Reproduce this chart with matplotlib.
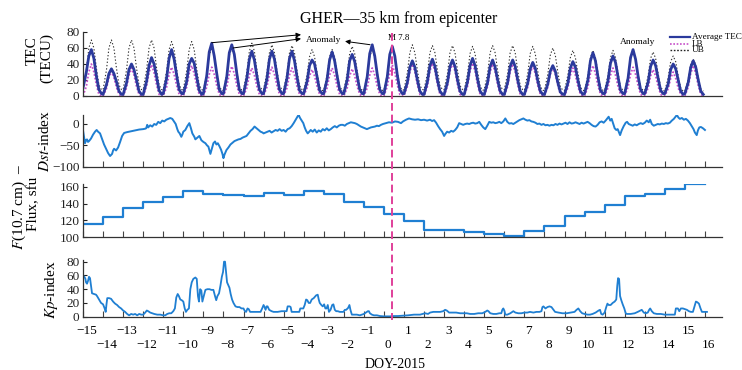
import numpy as np
import matplotlib
matplotlib.use('Agg')
import matplotlib.pyplot as plt
from matplotlib.lines import Line2D

plt.rcParams['font.family'] = ['Liberation Serif', 'DejaVu Serif']
plt.rcParams['mathtext.fontset'] = 'stix'

# ---------------- data ----------------
tec_days = list(range(-15, 16))
tec_hours = [0, 4, 7, 10, 13, 16, 19, 22]

avg_tec = [
    [10, 30, 50, 58, 47, 25, 8, 3],
    [2, 14, 28, 34, 28, 18, 6, 2],
    [2, 16, 33, 40, 33, 20, 6, 2],
    [2, 18, 38, 48, 40, 24, 7, 2],
    [3, 22, 47, 58, 46, 26, 8, 3],
    [3, 18, 40, 47, 41, 24, 7, 2],
    [3, 25, 55, 66, 50, 28, 8, 3],
    [3, 24, 54, 64, 52, 28, 8, 3],
    [3, 22, 46, 56, 45, 25, 8, 3],
    [3, 21, 46, 56, 46, 26, 8, 3],
    [3, 22, 47, 56, 44, 24, 7, 3],
    [3, 18, 38, 45, 40, 24, 7, 3],
    [3, 21, 45, 55, 44, 25, 8, 3],
    [3, 20, 44, 52, 43, 25, 8, 3],
    [3, 24, 53, 64, 50, 27, 8, 3],
    [3, 24, 52, 62, 50, 26, 8, 3],
    [3, 17, 36, 44, 36, 20, 6, 2],
    [2, 18, 38, 46, 37, 20, 6, 2],
    [2, 17, 37, 45, 37, 20, 6, 2],
    [2, 18, 38, 47, 38, 21, 6, 2],
    [2, 17, 37, 45, 36, 20, 6, 2],
    [2, 17, 37, 45, 37, 20, 6, 2],
    [2, 16, 34, 42, 35, 19, 6, 2],
    [2, 15, 31, 38, 31, 17, 5, 2],
    [2, 16, 35, 43, 36, 20, 6, 2],
    [3, 20, 44, 54, 44, 24, 7, 3],
    [3, 19, 41, 50, 42, 24, 7, 3],
    [3, 22, 48, 58, 46, 25, 8, 3],
    [3, 17, 37, 45, 38, 22, 7, 3],
    [3, 15, 33, 40, 34, 20, 6, 2],
    [3, 17, 36, 44, 36, 20, 6, 2],
]
ub_tec = [
    [8, 32, 60, 70, 60, 35, 14, 8],
    [8, 32, 60, 70, 60, 35, 14, 8],
    [8, 32, 60, 70, 60, 35, 14, 8],
    [8, 32, 60, 70, 60, 35, 14, 8],
    [8, 31, 58, 68, 58, 34, 14, 8],
    [8, 31, 58, 68, 58, 34, 14, 8],
    [7, 27, 51, 60, 51, 30, 12, 7],
    [7, 27, 51, 60, 51, 30, 12, 7],
    [8, 30, 56, 66, 56, 33, 13, 8],
    [8, 29, 54, 64, 54, 32, 13, 8],
    [8, 28, 54, 63, 54, 32, 13, 8],
    [7, 26, 49, 58, 49, 29, 12, 7],
    [7, 26, 49, 58, 49, 29, 12, 7],
    [7, 28, 53, 62, 53, 31, 12, 7],
    [7, 26, 49, 58, 49, 29, 12, 7],
    [7, 27, 51, 60, 51, 30, 12, 7],
    [8, 29, 54, 64, 54, 32, 13, 8],
    [8, 28, 54, 63, 54, 32, 13, 8],
    [8, 28, 54, 63, 54, 32, 13, 8],
    [7, 28, 53, 62, 53, 31, 12, 7],
    [8, 28, 54, 63, 54, 32, 13, 8],
    [8, 28, 54, 63, 54, 32, 13, 8],
    [7, 28, 53, 62, 53, 31, 12, 7],
    [7, 27, 51, 60, 51, 30, 12, 7],
    [7, 26, 48, 57, 48, 29, 11, 7],
    [7, 26, 48, 57, 48, 29, 11, 7],
    [7, 26, 48, 57, 48, 29, 11, 7],
    [7, 24, 46, 54, 46, 27, 11, 7],
    [7, 25, 47, 55, 47, 28, 11, 7],
    [6, 23, 43, 50, 43, 25, 10, 6],
    [6, 21, 39, 46, 39, 23, 9, 6],
]
lb_tec = [
    [0, 12, 30, 40, 30, 14, 2, 0],
    [0, 9, 23, 31, 23, 11, 2, 0],
    [0, 10, 26, 35, 26, 12, 2, 0],
    [0, 12, 29, 39, 29, 14, 2, 0],
    [0, 11, 27, 36, 27, 13, 2, 0],
    [0, 11, 28, 38, 28, 13, 2, 0],
    [0, 11, 27, 36, 27, 13, 2, 0],
    [0, 11, 28, 37, 28, 13, 2, 0],
    [0, 10, 26, 35, 26, 12, 2, 0],
    [0, 11, 27, 36, 27, 13, 2, 0],
    [0, 10, 26, 35, 26, 12, 2, 0],
    [0, 10, 25, 33, 25, 12, 2, 0],
    [0, 10, 26, 35, 26, 12, 2, 0],
    [0, 10, 25, 34, 25, 12, 2, 0],
    [0, 10, 26, 35, 26, 12, 2, 0],
    [0, 12, 29, 39, 29, 14, 2, 0],
    [0, 12, 30, 40, 30, 14, 2, 0],
    [0, 12, 31, 41, 31, 14, 2, 0],
    [0, 12, 31, 41, 31, 14, 2, 0],
    [0, 12, 31, 41, 31, 14, 2, 0],
    [0, 12, 30, 40, 30, 14, 2, 0],
    [0, 12, 30, 40, 30, 14, 2, 0],
    [0, 11, 28, 38, 28, 13, 2, 0],
    [0, 11, 27, 36, 27, 13, 2, 0],
    [0, 10, 26, 35, 26, 12, 2, 0],
    [0, 11, 28, 38, 28, 13, 2, 0],
    [0, 10, 26, 35, 26, 12, 2, 0],
    [0, 11, 27, 36, 27, 13, 2, 0],
    [0, 10, 25, 33, 25, 12, 2, 0],
    [0, 9, 22, 30, 22, 10, 2, 0],
    [0, 11, 28, 38, 28, 13, 2, 0],
]

dst_t = [-15.0, -14.95, -14.9, -14.85, -14.8, -14.75, -14.7, -14.6, -14.5, -14.4, -14.32, -14.25, -14.15,
         -14.05, -13.95, -13.85, -13.75, -13.65, -13.55, -13.5, -13.45, -13.35, -13.25, -13.15, -13.05,
         -12.95, -12.8, -12.6, -12.4, -12.2, -12.0, -11.9, -11.85, -11.8, -11.75, -11.65, -11.55, -11.45,
         -11.35, -11.25, -11.15, -11.05, -10.95, -10.85, -10.75, -10.65, -10.55, -10.45, -10.38, -10.3,
         -10.25, -10.18, -10.1, -10.05, -10.0, -9.9, -9.8, -9.7, -9.62, -9.55, -9.45, -9.4, -9.3, -9.2,
         -9.1, -9.0, -8.9, -8.82, -8.75, -8.7, -8.65, -8.58, -8.5, -8.42, -8.35, -8.28, -8.2, -8.12,
         -8.05, -8.0, -7.95, -7.85, -7.75, -7.65, -7.55, -7.45, -7.35, -7.25, -7.15, -7.05, -6.95, -6.85,
         -6.75, -6.65, -6.55, -6.45, -6.35, -6.25, -6.15, -6.05, -6.0, -5.9, -5.8, -5.7, -5.6, -5.5, -5.4,
         -5.3, -5.2, -5.1, -5.0, -4.9, -4.8, -4.7, -4.6, -4.5, -4.4, -4.3, -4.25, -4.18, -4.1, -4.02,
         -3.95, -3.88, -3.8, -3.72, -3.65, -3.55, -3.45, -3.35, -3.25, -3.15, -3.05, -2.95, -2.85, -2.75,
         -2.65, -2.55, -2.45, -2.35, -2.25, -2.15, -2.05, -1.95, -1.85, -1.75, -1.65, -1.55, -1.45, -1.35,
         -1.25, -1.15, -1.05, -0.95, -0.85, -0.75, -0.65, -0.55, -0.45, -0.35, -0.25, -0.15, -0.05, 0.1,
         0.25, 0.4, 0.55, 0.7, 0.85, 0.95, 1.1, 1.25, 1.4, 1.55, 1.7, 1.85, 2.0, 2.15, 2.3, 2.4, 2.5, 2.6,
         2.7, 2.8, 2.9, 3.0, 3.05, 3.15, 3.25, 3.35, 3.45, 3.55, 3.65, 3.75, 3.85, 3.95, 4.05, 4.15, 4.25,
         4.35, 4.45, 4.55, 4.65, 4.75, 4.85, 4.95, 5.05, 5.15, 5.25, 5.35, 5.45, 5.55, 5.65, 5.75, 5.85,
         5.95, 6.05, 6.15, 6.25, 6.35, 6.45, 6.55, 6.65, 6.75, 6.85, 6.95, 7.05, 7.15, 7.25, 7.35, 7.45,
         7.55, 7.65, 7.75, 7.85, 7.95, 8.05, 8.15, 8.25, 8.35, 8.45, 8.55, 8.65, 8.75, 8.85, 8.95, 9.05,
         9.15, 9.25, 9.35, 9.45, 9.55, 9.65, 9.75, 9.85, 9.95, 10.05, 10.15, 10.25, 10.35, 10.45, 10.55,
         10.65, 10.75, 10.85, 10.95, 11.05, 11.15, 11.2, 11.28, 11.35, 11.42, 11.5, 11.58, 11.65, 11.72,
         11.77, 11.85, 11.95, 12.05, 12.12, 12.2, 12.3, 12.4, 12.5, 12.6, 12.7, 12.8, 12.9, 13.0, 13.1,
         13.2, 13.27, 13.35, 13.45, 13.55, 13.65, 13.75, 13.85, 13.95, 14.05, 14.15, 14.25, 14.35, 14.45,
         14.55, 14.6, 14.68, 14.75, 14.85, 14.95, 15.05, 15.15, 15.25, 15.35, 15.43, 15.5, 15.59, 15.65,
         15.72, 15.8, 15.9, 16.0]
dst_v = [-15, -30, -45, -38, -36, -42, -40, -34, -25, -18, -14, -18, -22,
         -35, -48, -58, -68, -75, -70, -62, -58, -62, -55, -42, -28,
         -21, -19, -17, -15, -13, -12, -11, -10, -2, -8, -3, -6, 0,
         -2, 5, 2, 8, 6, 10, 12, 14, 12, 5, 0, -12,
         -18, -22, -30, -25, -18, -14, -5, 2, -10, -22, -30, -36, -32, -28,
         -38, -42, -45, -50, -53, -62, -70, -58, -45, -41, -48, -45, -52, -60,
         -70, -80, -72, -61, -55, -48, -44, -40, -38, -36, -35, -32, -30, -28,
         -22, -16, -12, -6, -10, -14, -18, -20, -22, -20, -18, -16, -20, -17, -14,
         -16, -12, -16, -14, -18, -12, -10, -5, 2, 10, 18, 21, 14, 8, 2,
         -8, -16, -22, -18, -14, -18, -13, -20, -15, -18, -12, -15, -10, -15,
         -12, -8, -5, -8, -4, -2, -2, -4, 0, 2, 4, 3, 2, 0,
         -3, -6, -8, -10, -12, -10, -8, -7, -6, -4, -5, -2, 0, 2,
         4, 3, 6, 5, 2, 6, 10, 13, 11, 10, 11, 9, 10, 8, 10, 7, 9, 3,
         -5, -12, -18, -28, -24, -18, -20, -16, -18, -14, -8, 2, 0, -2, 0, 1, 0,
         2, 3, 1, 2, 5, -2, -8, -12, -4, 5, 3, 4, 2, 3, 5, 2,
         6, 13, 5, 1, 2, 0, 3, 6, 9, 11, 13, 10, 8, 9, 6, 5,
         3, 0, 1, -2, 0, -3, -2, -4, -2, -3, 0, -2, 1, -1, 1, 3,
         0, 4, 1, 2, 4, 2, 0, 3, 1, 3, 5, 2, -2, -5, -6,
         -2, 4, 6, 3, 8, 14, 17, 8, 12, 2, -10, -14, -12, -20,
         -26, -15, -5, 3, 5, 0, -2, -4, -1, -3, 0, 2, 0, 3, 8,
         4, 10, 0, -4, -2, 0, -1, 1, 0, 2, 1, 3, 8, 12,
         18, 21, 15, 12, 14, 10, 12, 8, 2, -6, -12, -20, -26, -15,
         -8, -7, -10, -14]

f107_days = list(range(-15, 17))
f107_vals = [115.8, 123.7, 134.4, 141.5, 147.4, 155.3, 151.4, 150.6, 148.5, 152.0, 150.6, 155.0,
             151.4, 141.5, 136.0, 127.6, 119.7, 108.7, 109.0, 105.9, 103.9, 101.5, 107.5, 113.4,
             125.6, 129.6, 138.3, 149.4, 151.4, 157.0, 162.9, 162.9]

kp_t = [-15.0, -14.93, -14.88, -14.85, -14.8, -14.75, -14.7, -14.65, -14.6, -14.55, -14.45, -14.35,
        -14.3, -14.2, -14.1, -14.0, -13.92, -13.87, -13.83, -13.79, -13.7, -13.6, -13.5, -13.4, -13.3,
        -13.2, -13.1, -13.0, -12.9, -12.8, -12.7, -12.6, -12.5, -12.4, -12.3, -12.2, -12.1, -12.0,
        -11.9, -11.82, -11.75, -11.65, -11.55, -11.45, -11.3, -11.15, -11.0, -10.9, -10.8, -10.7,
        -10.6, -10.5, -10.42, -10.35, -10.28, -10.22, -10.15, -10.08, -10.0, -9.93, -9.87, -9.8,
        -9.72, -9.65, -9.58, -9.5, -9.4, -9.33, -9.27, -9.22, -9.16, -9.1, -9.05, -8.98, -8.9, -8.8,
        -8.7, -8.6, -8.5, -8.42, -8.36, -8.3, -8.22, -8.15, -8.08, -8.02, -7.97, -7.92, -7.87, -7.82,
        -7.76, -7.7, -7.64, -7.57, -7.5, -7.4, -7.3, -7.2, -7.1, -7.0, -6.93, -6.87, -6.8, -6.74,
        -6.67, -6.5, -6.3, -6.15, -6.07, -6.0, -5.95, -5.9, -5.85, -5.8, -5.72, -5.6, -5.5, -5.3,
        -5.1, -4.95, -4.85, -4.8, -4.7, -4.65, -4.6, -4.5, -4.35, -4.22, -4.17, -4.1, -4.02, -3.95,
        -3.88, -3.82, -3.75, -3.68, -3.6, -3.5, -3.38, -3.3, -3.25, -3.2, -3.12, -3.05, -2.98, -2.92,
        -2.86, -2.8, -2.74, -2.66, -2.58, -2.52, -2.45, -2.38, -2.3, -2.2, -2.1, -2.02, -1.95, -1.88,
        -1.78, -1.72, -1.67, -1.6, -1.5, -1.35, -1.2, -1.0, -0.9, -0.8, -0.75, -0.7, -0.6, -0.5,
        -0.35, -0.2, 0.0, 0.3, 0.5, 0.7, 0.97, 1.2, 1.5, 1.8, 2.05, 2.2, 2.3, 2.46, 2.6, 2.8, 2.95,
        3.05, 3.13, 3.25, 3.4, 3.6, 3.8, 4.0, 4.13, 4.3, 4.5, 4.7, 4.9, 5.05, 5.15, 5.21, 5.3, 5.45,
        5.6, 5.75, 5.85, 5.9, 5.95, 6.0, 6.05, 6.15, 6.3, 6.45, 6.55, 6.7, 6.85, 7.0, 7.15, 7.28,
        7.45, 7.6, 7.75, 7.85, 7.9, 7.95, 8.05, 8.15, 8.25, 8.35, 8.45, 8.53, 8.7, 8.9, 9.11, 9.3,
        9.5, 9.6, 9.69, 9.78, 9.88, 10.0, 10.15, 10.27, 10.4, 10.55, 10.7, 10.77, 10.83, 10.9, 11.0,
        11.08, 11.14, 11.2, 11.3, 11.4, 11.5, 11.58, 11.63, 11.67, 11.72, 11.77, 11.83, 11.9, 11.98,
        12.05, 12.1, 12.3, 12.5, 12.65, 12.78, 12.85, 12.95, 13.05, 13.15, 13.22, 13.27, 13.35,
        13.45, 13.6, 13.8, 14.0, 14.2, 14.4, 14.5, 14.55, 14.65, 14.72, 14.8, 14.9, 15.0, 15.1,
        15.2, 15.3, 15.4, 15.48, 15.55, 15.62, 15.7, 15.78, 15.85, 15.93, 16.05, 16.1]
kp_v = [60, 58, 55, 50, 48, 52, 58, 56, 45, 34, 33, 32,
        30, 25, 20, 18, 12, 7, 18, 27, 27, 26, 22, 19, 17,
        14, 12, 9, 7, 4, 2, 4, 3, 4, 2, 4, 3, 3,
        6, 9, 8, 6, 5, 4, 3, 3, 2, 2, 4, 5,
        5, 8, 12, 28, 33, 30, 25, 24, 22, 12, 7, 10,
        12, 40, 50, 55, 57, 55, 30, 22, 40, 38, 22, 30, 39, 40,
        40, 39, 39, 30, 24, 30, 34, 45, 58, 65, 80, 80, 65, 50,
        46, 42, 33, 25, 20, 15, 14, 14, 12, 12, 8, 7, 12, 11,
        7, 7, 7, 7, 12, 17, 14, 10, 15, 15, 10, 8, 7, 7,
        8, 8, 8, 15, 15, 14, 7, 7, 7, 7, 12, 12, 12, 17,
        25, 24, 20, 20, 25, 27, 31, 32, 25, 20, 17, 15, 18, 12,
        12, 17, 7, 10, 17, 18, 10, 8, 8, 7, 7, 7, 10, 10,
        13, 17, 10, 3, 3, 3, 2, 4, 6, 8, 8, 5, 3, 2,
        2, 1, 0.5, 0.5, 1, 1, 1.5, 2, 3, 3, 5, 4, 6, 7, 7, 7, 8,
        10, 9, 6, 6, 6, 5, 5, 5, 4, 4, 5, 5, 7, 9, 8, 5, 4,
        4, 5, 5, 10, 12, 9, 3, 3, 5, 8, 6, 5, 5, 6, 6, 7,
        6, 7, 7, 8, 14, 15, 12, 14, 15, 14, 10, 7, 6, 5, 5, 6,
        7, 10, 12, 8, 5, 4, 3, 3, 4, 6, 9, 10, 4, 3, 6,
        14, 19, 17, 17, 20, 22, 25, 45, 56, 55, 30, 24, 18, 12,
        5, 4, 4, 5, 7, 9, 10, 6, 5, 6, 10, 12, 8,
        5, 4, 4, 3, 3, 3, 3, 12, 12, 8, 12, 12, 11, 10,
        8, 7, 7, 15, 22, 21, 19, 12, 7, 7, 7, 7]

quake_day = 0.38
tick_days = list(range(-15, 17))

# ---------------- layout helpers ----------------
W, H = 742, 370
fig = plt.figure(figsize=(W / 100, H / 100), dpi=100)
X0, X1 = 83, 722


def rect(top, bot):
    return [X0 / W, 1 - bot / H, (X1 - X0) / W, (bot - top) / H]


ax_tec = fig.add_axes(rect(32, 96))
ax_dst = fig.add_axes(rect(114.6, 166.7))
ax_f = fig.add_axes(rect(183.8, 237.3))
ax_kp = fig.add_axes(rect(260.3, 316.7))
axes = [ax_tec, ax_dst, ax_f, ax_kp]

line_blue = '#1f7fd2'
for ax in axes:
    ax.set_xlim(-15, 16.85)
    ax.spines['top'].set_visible(False)
    ax.spines['right'].set_visible(False)
    for s in ('left', 'bottom'):
        ax.spines[s].set_linewidth(0.9)
        ax.spines[s].set_color('#333333')
    ax.tick_params(axis='y', direction='in', length=3, width=0.8, labelsize=9.5, pad=2.5,
                   colors='#222222')
    ax.tick_params(axis='x', direction='in', length=4, width=0.8, colors='#444444')
    ax.patch.set_alpha(0)

# ---- TEC panel ----
t_tec = []
a_tec, u_tec, l_tec = [], [], []
for i, d in enumerate(tec_days):
    for j, h in enumerate(tec_hours):
        t_tec.append(d + h / 24.0)
        a_tec.append(avg_tec[i][j])
        u_tec.append(ub_tec[i][j])
        l_tec.append(lb_tec[i][j])
ax_tec.plot(t_tec, u_tec, color='#333333', lw=0.8, ls=(0, (1.2, 1.8)))
ax_tec.plot(t_tec, l_tec, color='#c64fc8', lw=1.25, ls=(0, (1, 1.1)))
ax_tec.plot(t_tec, a_tec, color='#2b3a9c', lw=2.0)
ax_tec.set_ylim(0, 80)
ax_tec.set_yticks([0, 20, 40, 60, 80])
ax_tec.set_xticks([])


def dpos(px, py):
    return ((px - X0) / 20.06 - 15, (96 - py) / 0.8)


arrow_kw = dict(arrowstyle='-|>', color='black', lw=0.7, mutation_scale=7,
                shrinkA=0, shrinkB=0)
ax_tec.annotate('', xy=dpos(301, 34.7), xytext=dpos(211.7, 42.7), arrowprops=arrow_kw,
                annotation_clip=False)
ax_tec.annotate('', xy=dpos(301, 38.7), xytext=dpos(233, 48), arrowprops=arrow_kw,
                annotation_clip=False)
ax_tec.annotate('', xy=dpos(345, 41.3), xytext=dpos(370, 44.7), arrowprops=arrow_kw,
                annotation_clip=False)
x, y = dpos(324, 39.5)
ax_tec.text(x, y, 'Anomaly', fontsize=6.8, ha='center', va='center')
x, y = dpos(638, 41.7)
ax_tec.text(x, y, 'Anomaly', fontsize=6.8, ha='center', va='center')
x, y = dpos(388, 38.5)
ax_tec.text(x, y, 'M 7.8', fontsize=6.5, ha='left', va='center')

# legend (manual)
leg = [('Average TEC', '#2b3a9c', '-', 1.6), ('LB', '#c64fc8', (0, (1, 1)), 1.2),
       ('UB', '#222222', (0, (1.2, 1.2)), 1.0)]
for k, (lab, col, ls, lw) in enumerate(leg):
    yy = 1 - (37 + 6.5 * k) / H
    fig.add_artist(Line2D([670 / W, 690 / W], [yy, yy], color=col, ls=ls, lw=lw))
    fig.text(691.5 / W, yy, lab, fontsize=6.6, ha='left', va='center')

# ---- Dst panel ----
ax_dst.plot(dst_t, dst_v, color=line_blue, lw=1.4)
ax_dst.set_ylim(-100, 22)
ax_dst.set_yticks([0, -50, -100])
ax_dst.set_yticklabels(['0', '\u221250', '\u2212100'])
ax_dst.set_xticks(tick_days)
ax_dst.set_xticklabels([])

# ---- F10.7 panel ----
ax_f.step(f107_days, f107_vals, where='post', color=line_blue, lw=1.6)
ax_f.set_ylim(100, 163.5)
ax_f.set_yticks([100, 120, 140, 160])
ax_f.set_xticks(tick_days)
ax_f.set_xticklabels([])

# ---- Kp panel ----
ax_kp.plot(kp_t, kp_v, color=line_blue, lw=1.3)
ax_kp.set_ylim(0, 82)
ax_kp.set_yticks([0, 20, 40, 60, 80])
ax_kp.set_xticks(tick_days)
ax_kp.set_xticklabels([])
kp_h = 316.7 - 260.3
for d in tick_days:
    lab = str(d).replace('-', '\u2212')
    row_y = 331.5 if d % 2 else 345.5
    ax_kp.text(d + 0.2, -(row_y - 316.7) / kp_h, lab, transform=ax_kp.get_xaxis_transform(),
               ha='center', va='center', fontsize=9.5)

# vertical dashed line across panels (earthquake time)
qx = (X0 + (quake_day + 15) * 20.06) / W
fig.add_artist(Line2D([qx, qx], [1 - 33 / H, 1 - 320 / H], color='#e0409a', lw=1.4,
                      ls=(0, (4, 2)), zorder=5))

# ---- titles / labels ----
fig.text(399 / W, 1 - 19 / H, 'GHER\u201435 km from epicenter', fontsize=11.5,
         ha='center', va='center')
fig.text(32 / W, 1 - 51 / H, 'TEC', rotation=90, fontsize=11, ha='center', va='center')
fig.text(47 / W, 1 - 58 / H, '(TECU)', rotation=90, fontsize=11, ha='center', va='center')
fig.text(45 / W, 1 - 141 / H, r'$\mathit{Dst}$-index', rotation=90, fontsize=11,
         ha='center', va='center')
fig.text(19 / W, 1 - 207 / H, r'$\mathit{F}$(10.7 cm)  ' + '\u2013',
         rotation=90, fontsize=11, ha='center', va='center')
fig.text(34 / W, 1 - 204 / H, 'Flux, sfu', rotation=90, fontsize=11, ha='center', va='center')
fig.text(52 / W, 1 - 290 / H, r'$\mathit{Kp}$-index', rotation=90, fontsize=11,
         ha='center', va='center')
fig.text(395 / W, 1 - 364 / H, 'DOY-2015', fontsize=10, ha='center', va='center')

fig.savefig('out.png', dpi=100)
